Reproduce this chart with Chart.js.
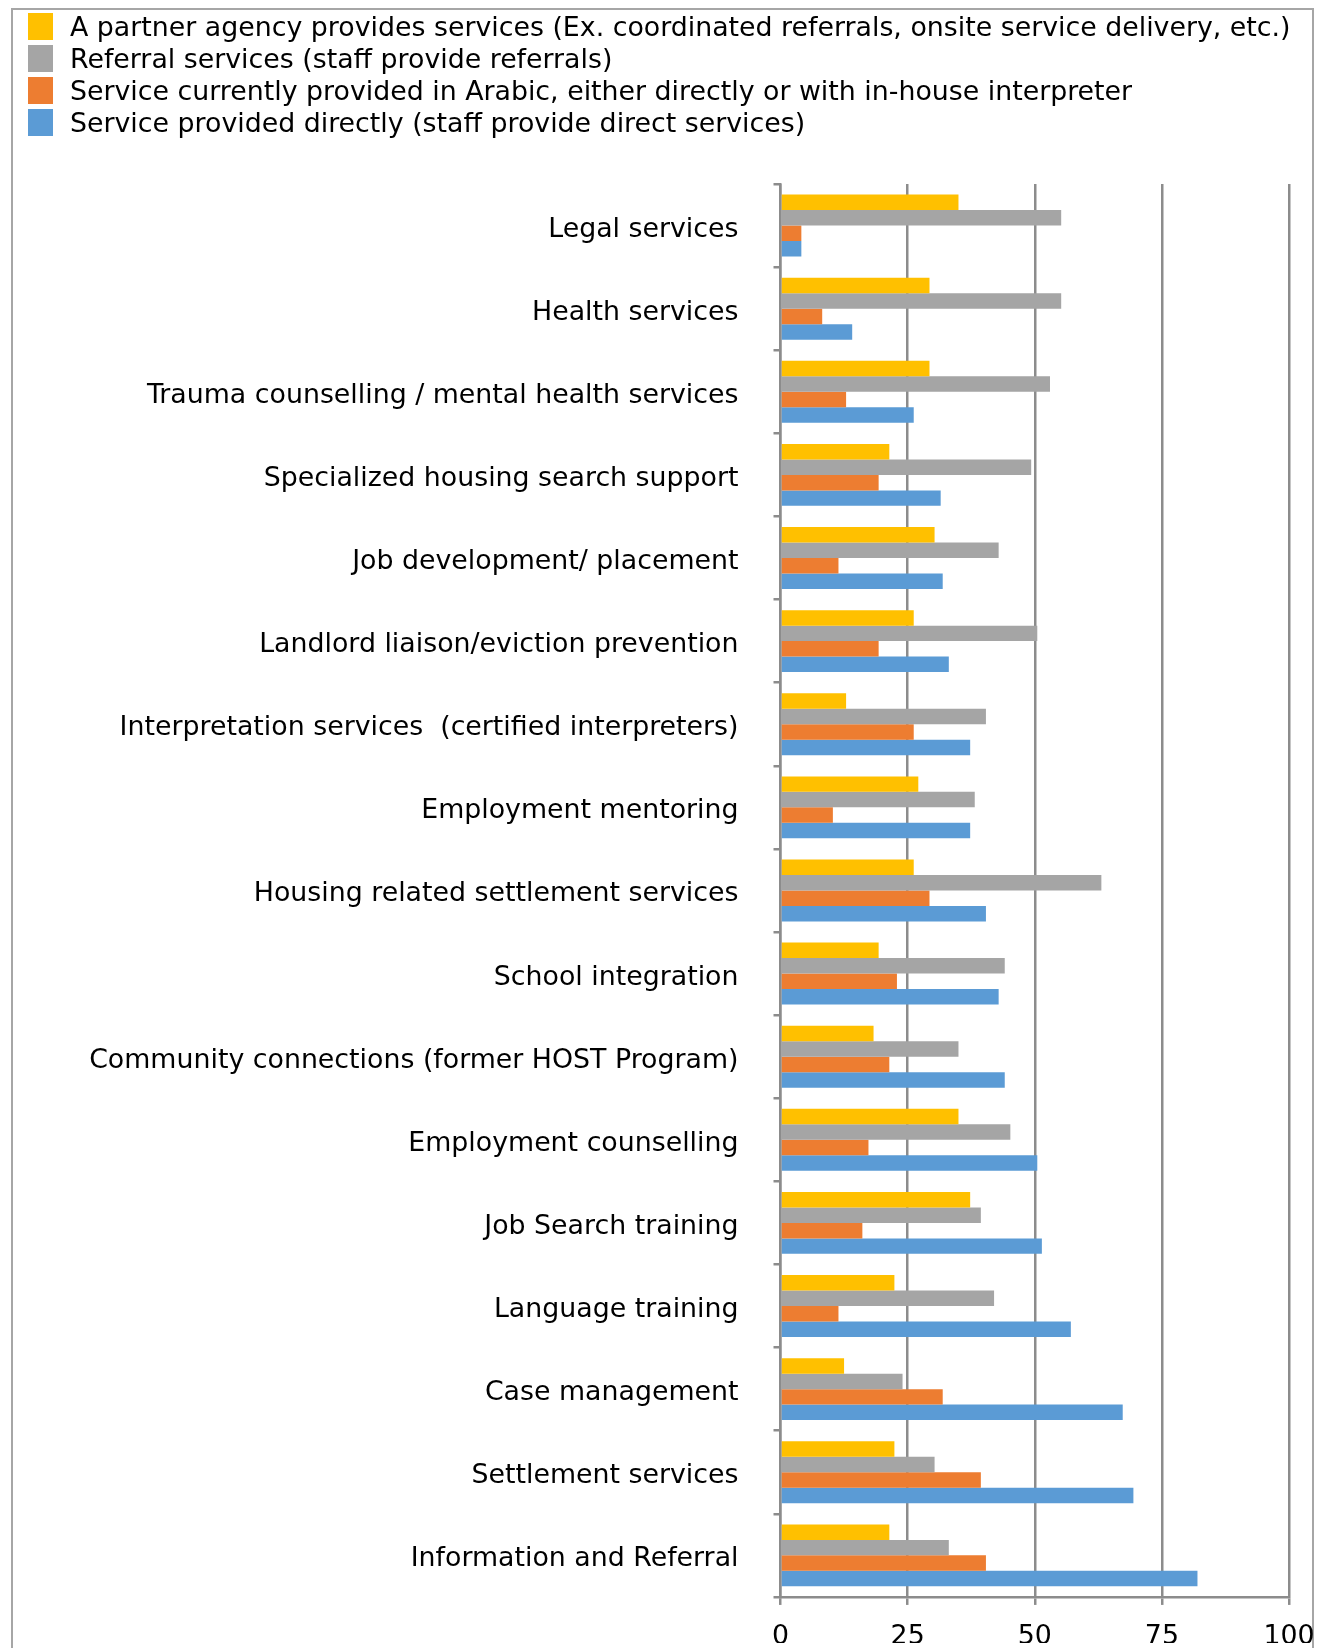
<!DOCTYPE html>
<html>
<head>
<meta charset="utf-8">
<script src="https://cdn.jsdelivr.net/npm/chart.js@4.4.1/dist/chart.umd.min.js"></script>
<style>
  html, body { margin: 0; padding: 0; background: #fff; }
  body { width: 1327px; height: 1648px; position: relative; overflow: hidden; font-family: "DejaVu Sans", Verdana, sans-serif; }
  #frame { position: absolute; left: 11px; top: 8px; width: 1299px; height: 1700px; border: 2px solid #a6a6a6; border-bottom: none; }
  #legend { position: absolute; left: 28px; top: 10px; z-index: 2; }
  .item { display: flex; align-items: center; height: 32px; }
  .swatch { width: 25px; height: 27px; margin-right: 17px; flex: none; }
  .item span { font-size: 26.8px; color: #000; white-space: nowrap; }
  #chart { position: absolute; left: 0; top: 0; z-index: 1; }
</style>
</head>
<body>
<div id="frame"></div>
<div id="legend"></div>
<canvas id="chart" width="1327" height="1648"></canvas>
<script>
const categories = [
  'Legal services',
  'Health services',
  'Trauma counselling / mental health services',
  'Specialized housing search support',
  'Job development/ placement',
  'Landlord liaison/eviction prevention',
  'Interpretation services  (certified interpreters)',
  'Employment mentoring',
  'Housing related settlement services',
  'School integration',
  'Community connections (former HOST Program)',
  'Employment counselling',
  'Job Search training',
  'Language training',
  'Case management',
  'Settlement services',
  'Information and Referral'
];

// values (percent)
const partnerAgency = [35.0, 29.3, 29.3, 21.4, 30.3, 26.2, 12.9, 27.1, 26.2, 19.3, 18.3, 35.0, 37.3, 22.4, 12.5, 22.4, 21.4];
const referralServices = [55.2, 55.2, 53.0, 49.3, 42.9, 50.5, 40.4, 38.2, 63.1, 44.1, 35.0, 45.2, 39.4, 42.0, 24.0, 30.3, 33.1];
const arabicServices = [4.1, 8.2, 12.9, 19.3, 11.4, 19.3, 26.2, 10.3, 29.3, 22.9, 21.4, 17.3, 16.1, 11.4, 31.9, 39.4, 40.4];
const directServices = [4.1, 14.1, 26.2, 31.5, 31.9, 33.1, 37.3, 37.3, 40.4, 42.9, 44.1, 50.5, 51.4, 57.1, 67.3, 69.4, 82.0];

const xTicks = [0, 25, 50, 75, 100];

const seriesNames = [
  'A partner agency provides services (Ex. coordinated referrals, onsite service delivery, etc.)',
  'Referral services (staff provide referrals)',
  'Service currently provided in Arabic, either directly or with in-house interpreter',
  'Service provided directly (staff provide direct services)'
];
const seriesColors = ['#FFC000', '#A5A5A5', '#ED7D31', '#5B9BD5'];
const seriesValues = [partnerAgency, referralServices, arabicServices, directServices];

const axisGray = '#8c8c8c';
const font = '"DejaVu Sans", Verdana, sans-serif';

const chart = new Chart(document.getElementById('chart').getContext('2d'), {
  type: 'bar',
  data: {
    labels: categories,
    datasets: seriesNames.map((name, i) => ({
      label: name,
      data: seriesValues[i],
      backgroundColor: seriesColors[i],
      borderWidth: 0,
      categoryPercentage: 0.745,
      barPercentage: 1.0
    }))
  },
  options: {
    indexAxis: 'y',
    responsive: false,
    animation: false,
    devicePixelRatio: 1,
    layout: { padding: { top: 184, right: 38, left: 0, bottom: 0 } },
    plugins: {
      legend: { display: false },
      tooltip: { enabled: false }
    },
    scales: {
      x: {
        min: 0,
        max: 100,
        afterFit: (scale) => {
          scale.height = 46;
          scale.paddingLeft = 0;
          scale.paddingRight = 0;
        },
        afterBuildTicks: (scale) => { scale.ticks = xTicks.map(v => ({ value: v })); },
        grid: { color: axisGray, lineWidth: 2.5, drawOnChartArea: true, drawTicks: true, tickLength: 8 },
        border: { display: true, color: axisGray, width: 2.5 },
        ticks: { color: '#000', font: { family: font, size: 26.8 }, padding: 16, maxRotation: 0 }
      },
      y: {
        afterFit: (scale) => { scale.width = 780.5; },
        grid: { color: axisGray, lineWidth: 2.5, drawOnChartArea: false, drawTicks: true, tickLength: 7, offset: true },
        border: { display: true, color: axisGray, width: 2.5 },
        ticks: { color: '#000', font: { family: font, size: 26.8 }, padding: 35, labelOffset: 4, autoSkip: false }
      }
    }
  }
});

// legend built from the chart's datasets
const legendEl = document.getElementById('legend');
chart.data.datasets.forEach(ds => {
  const item = document.createElement('div');
  item.className = 'item';
  const sw = document.createElement('div');
  sw.className = 'swatch';
  sw.style.background = ds.backgroundColor;
  const txt = document.createElement('span');
  txt.textContent = ds.label;
  item.appendChild(sw);
  item.appendChild(txt);
  legendEl.appendChild(item);
});
</script>
</body>
</html>
